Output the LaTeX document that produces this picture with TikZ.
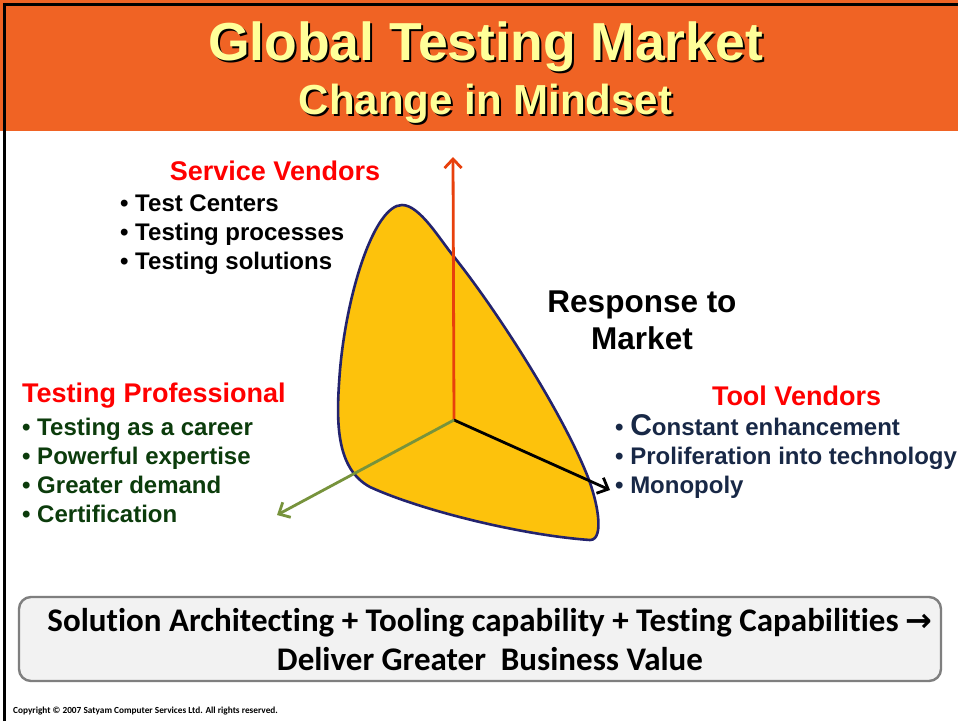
\documentclass[tikz,border=0pt]{standalone}
\usepackage{fontspec}
\setmainfont{Liberation Sans}
\newfontfamily\calib[Ligatures={NoCommon}]{Carlito}
\newfontfamily\djv{DejaVu Sans}
\usetikzlibrary{arrows.meta}
\definecolor{hdr}{RGB}{240,99,36}
\definecolor{ttl}{RGB}{255,255,153}
\definecolor{blob}{RGB}{253,194,12}
\definecolor{blobedge}{RGB}{35,35,110}
\definecolor{axred}{RGB}{232,64,12}
\definecolor{axgreen}{RGB}{119,147,60}
\definecolor{hred}{RGB}{255,0,0}
\definecolor{dgreen}{RGB}{12,60,12}
\definecolor{navy}{RGB}{24,40,70}
\definecolor{boxfill}{RGB}{242,242,242}
\definecolor{boxedge}{RGB}{127,127,127}
\tikzset{
  heading/.style={font=\fontsize{27}{30}\selectfont\bfseries, text=hred, inner sep=0pt},
  blist/.style={font=\fontsize{24}{29}\selectfont\bfseries, align=left, inner sep=0pt, anchor=north west},
  axis/.style={line width=2.8pt, -{Straight Barb[length=9pt,width=17pt,line width=2.8pt]}},
}
\begin{document}
\begin{tikzpicture}[x=1pt,y=-1pt]
\useasboundingbox (0,0) rectangle (958,721);
\fill[white] (0,0) rectangle (958,721);
% header
\fill[hdr] (0,0) rectangle (958,131);
\draw[black, line width=3pt] (4.5,721) -- (4.5,4.5) -- (958,4.5);
% titles
\node[font=\fontsize{53.5}{60}\selectfont\bfseries, text=black] at (487.5,49) {Global Testing Market};
\node (t1) [font=\fontsize{53.5}{60}\selectfont\bfseries, text=ttl] at (485.5,47) {Global Testing Market};
\node[font=\fontsize{42}{48}\selectfont\bfseries, text=black] at (487.5,106) {Change in Mindset};
\node (t2) [font=\fontsize{42}{48}\selectfont\bfseries, text=ttl] at (485.5,104) {Change in Mindset};
% blob
\path[fill=blob, draw=blobedge, line width=2.6pt]
  (402,205) .. controls (420,205) and (440,240) .. (455,258)
  .. controls (500,315) and (560,410) .. (585,470)
  .. controls (598,500) and (605,540) .. (590,540)
  .. controls (520,535) and (420,510) .. (370,487)
  .. controls (335,468) and (336,420) .. (340,370)
  .. controls (347,290) and (375,205) .. (402,205) -- cycle;
% axes
\coordinate (o) at (454,420);
\coordinate (up) at (453,157);
\coordinate (rt) at (610,490);
\coordinate (lf) at (277,515);
\draw[axis, axred] (o) -- (up);
\draw[axis, black] (o) -- (rt);
\draw[axis, axgreen] (o) -- (lf);
% Service vendors
\node (sv) [heading] at (275,171) {Service Vendors};
\node (svl) [blist, text=black] at (120,195) {\textbullet\ Test Centers\\\textbullet\ Testing processes\\\textbullet\ Testing solutions};
% Response
\node (resp) [font=\fontsize{31.5}{37}\selectfont\bfseries, align=center, inner sep=0pt] at (642,320) {Response to\\Market};
% Testing professional
\node (tp) [heading, anchor=west] at (22,396) {Testing Professional};
\node (tpl) [blist, text=dgreen] at (22,418) {\textbullet\ Testing as a career\\\textbullet\ Powerful expertise\\\textbullet\ Greater demand\\\textbullet\ Certification};
% Tool vendors
\node (tv) [heading] at (796.5,396) {Tool Vendors};
\node (tvl) [blist, text=navy] at (615,414) {\textbullet\ {\fontsize{30}{29}\selectfont C}onstant enhancement\\\textbullet\ Proliferation into technology\\\textbullet\ Monopoly};
% bottom box
\node (bx) [draw=boxedge, fill=boxfill, line width=2.4pt, rounded corners=12pt, minimum width=922pt, minimum height=84pt, inner sep=0pt] at (480,639) {};
\node (bt) [font=\calib\fontsize{33}{39}\selectfont\bfseries, align=center, inner sep=0pt] at (490,640) {Solution Architecting + Tooling capability + Testing Capabilities {\djv\bfseries\fontsize{32}{39}\selectfont →}\\Deliver Greater\ \ Business Value};
\node (cp) [font=\calib\fontsize{9.3}{10}\selectfont\bfseries, anchor=base west, inner sep=0pt] at (13,713) {Copyright © 2007 Satyam Computer Services Ltd. All rights reserved.};
\end{tikzpicture}
\end{document}
